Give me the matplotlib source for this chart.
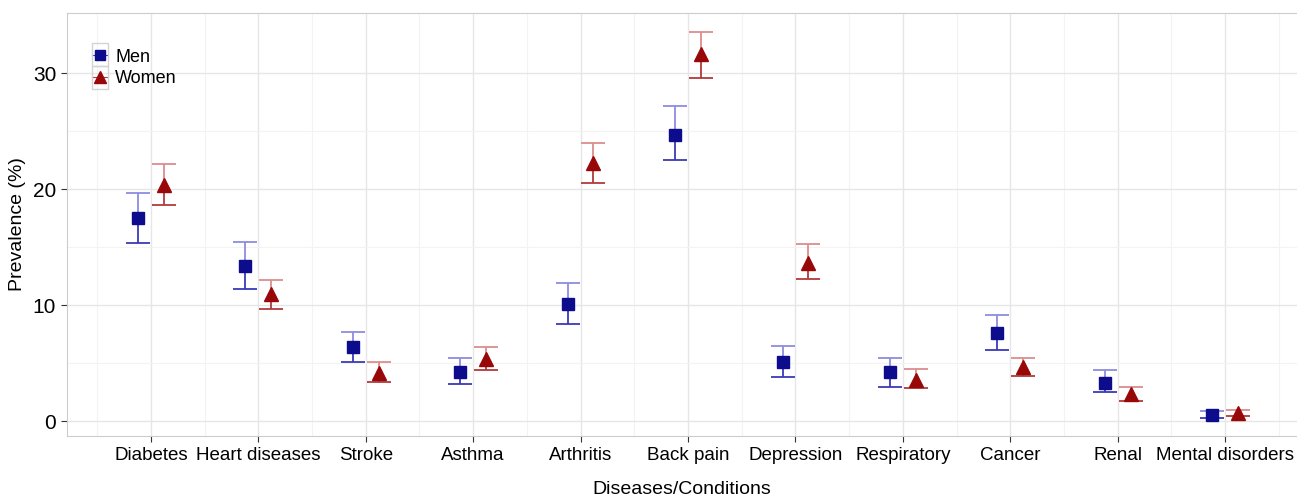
import matplotlib.pyplot as plt
import numpy as np
from matplotlib.lines import Line2D
from matplotlib.patches import Rectangle

plt.rcParams['font.family'] = ['Liberation Sans', 'DejaVu Sans']

categories = ['Diabetes', 'Heart diseases', 'Stroke', 'Asthma', 'Arthritis', 'Back pain',
              'Depression', 'Respiratory', 'Cancer', 'Renal', 'Mental disorders']
men = [17.5, 13.4, 6.4, 4.3, 10.1, 24.7, 5.1, 4.3, 7.6, 3.3, 0.6]
men_lo = [15.4, 11.4, 5.1, 3.2, 8.4, 22.5, 3.8, 3.0, 6.2, 2.5, 0.3]
men_hi = [19.7, 15.5, 7.7, 5.5, 11.9, 27.2, 6.5, 5.5, 9.2, 4.4, 0.9]
women = [20.4, 11.0, 4.2, 5.4, 22.3, 31.7, 13.7, 3.6, 4.7, 2.4, 0.7]
women_lo = [18.7, 9.7, 3.4, 4.4, 20.6, 29.6, 12.3, 2.9, 3.9, 1.8, 0.5]
women_hi = [22.2, 12.2, 5.1, 6.4, 24.0, 33.6, 15.3, 4.5, 5.5, 3.0, 1.0]

MEN_C = '#0c0c8c'
WOM_C = '#980808'

fig = plt.figure(figsize=(12.97, 4.96), dpi=100)
ax = fig.add_axes([0.0514, 0.121, 0.9486, 0.8534])

x = np.arange(1, len(categories) + 1)
dx = 0.12

def draw(xs, mid, lo, hi, dark, light, mk, ms, fill):
    # upper half of the bar lighter, lower half darker
    ax.vlines(xs, mid, hi, color=light, lw=1.3, zorder=2)
    ax.vlines(xs, lo, mid, color=dark, lw=1.3, zorder=2)
    ax.plot(xs, hi, '_', color=light, ms=17, mew=1.3, ls='none', zorder=2)
    ax.plot(xs, lo, '_', color=dark, ms=17, mew=1.3, ls='none', zorder=2)
    ax.plot(xs, mid, mk, color=fill, ms=ms, ls='none', zorder=4)

draw(x - dx, men, men_lo, men_hi, '#3a3ab8', '#8c8ce2', 's', 8.5, MEN_C)
draw(x + dx, women, women_lo, women_hi, '#b03a3a', '#dc8e8e', '^', 9.5, WOM_C)

ax.set_xlim(0.215, 11.67)
ax.set_ylim(-1.25, 35.24)
ax.set_xticks(x)
ax.set_xticklabels(categories, fontsize=13.5)
ax.set_yticks([0, 10, 20, 30])
ax.tick_params(axis='y', labelsize=15, length=4, color='#333333')
ax.tick_params(axis='x', length=4, color='#333333', pad=4)
ax.set_xticks(np.arange(0.5, 12, 1), minor=True)
ax.set_yticks([5, 15, 25], minor=True)
ax.tick_params(which='minor', length=0)
ax.grid(True, which='major', color='#e6e6e6', lw=1.0)
ax.grid(True, which='minor', color='#f3f3f3', lw=0.8)
ax.set_axisbelow(True)
for s in ax.spines.values():
    s.set_color('#cccccc')
ax.spines['right'].set_visible(False)

ax.set_xlabel('Diseases/Conditions', fontsize=14, labelpad=12)
ax.set_ylabel('Prevalence (%)', fontsize=14, labelpad=5)

h1 = Line2D([], [], color='#3a3ab8', marker='s', ms=7, lw=0.8, mfc=MEN_C, mec=MEN_C)
h2 = Line2D([], [], color='#b03a3a', marker='^', ms=8, lw=0.8, mfc=WOM_C, mec=WOM_C)
leg = ax.legend([h1, h2], ['Men', 'Women'], loc='upper left', bbox_to_anchor=(0.0145, 0.932),
                frameon=False, fontsize=13, handlelength=0.9, handletextpad=0.4,
                labelspacing=0.25, borderaxespad=0, numpoints=1)

# gray key boxes like ggplot legend keys
for yy in (43, 66):
    fig.patches.append(Rectangle((92 / 1297, 1 - (yy + 23) / 496), 16 / 1297, 23 / 496,
                                 transform=fig.transFigure, fill=False,
                                 ec='#d4d4d4', lw=1.0, zorder=1))

fig.savefig('out.png', dpi=100, facecolor='white')
